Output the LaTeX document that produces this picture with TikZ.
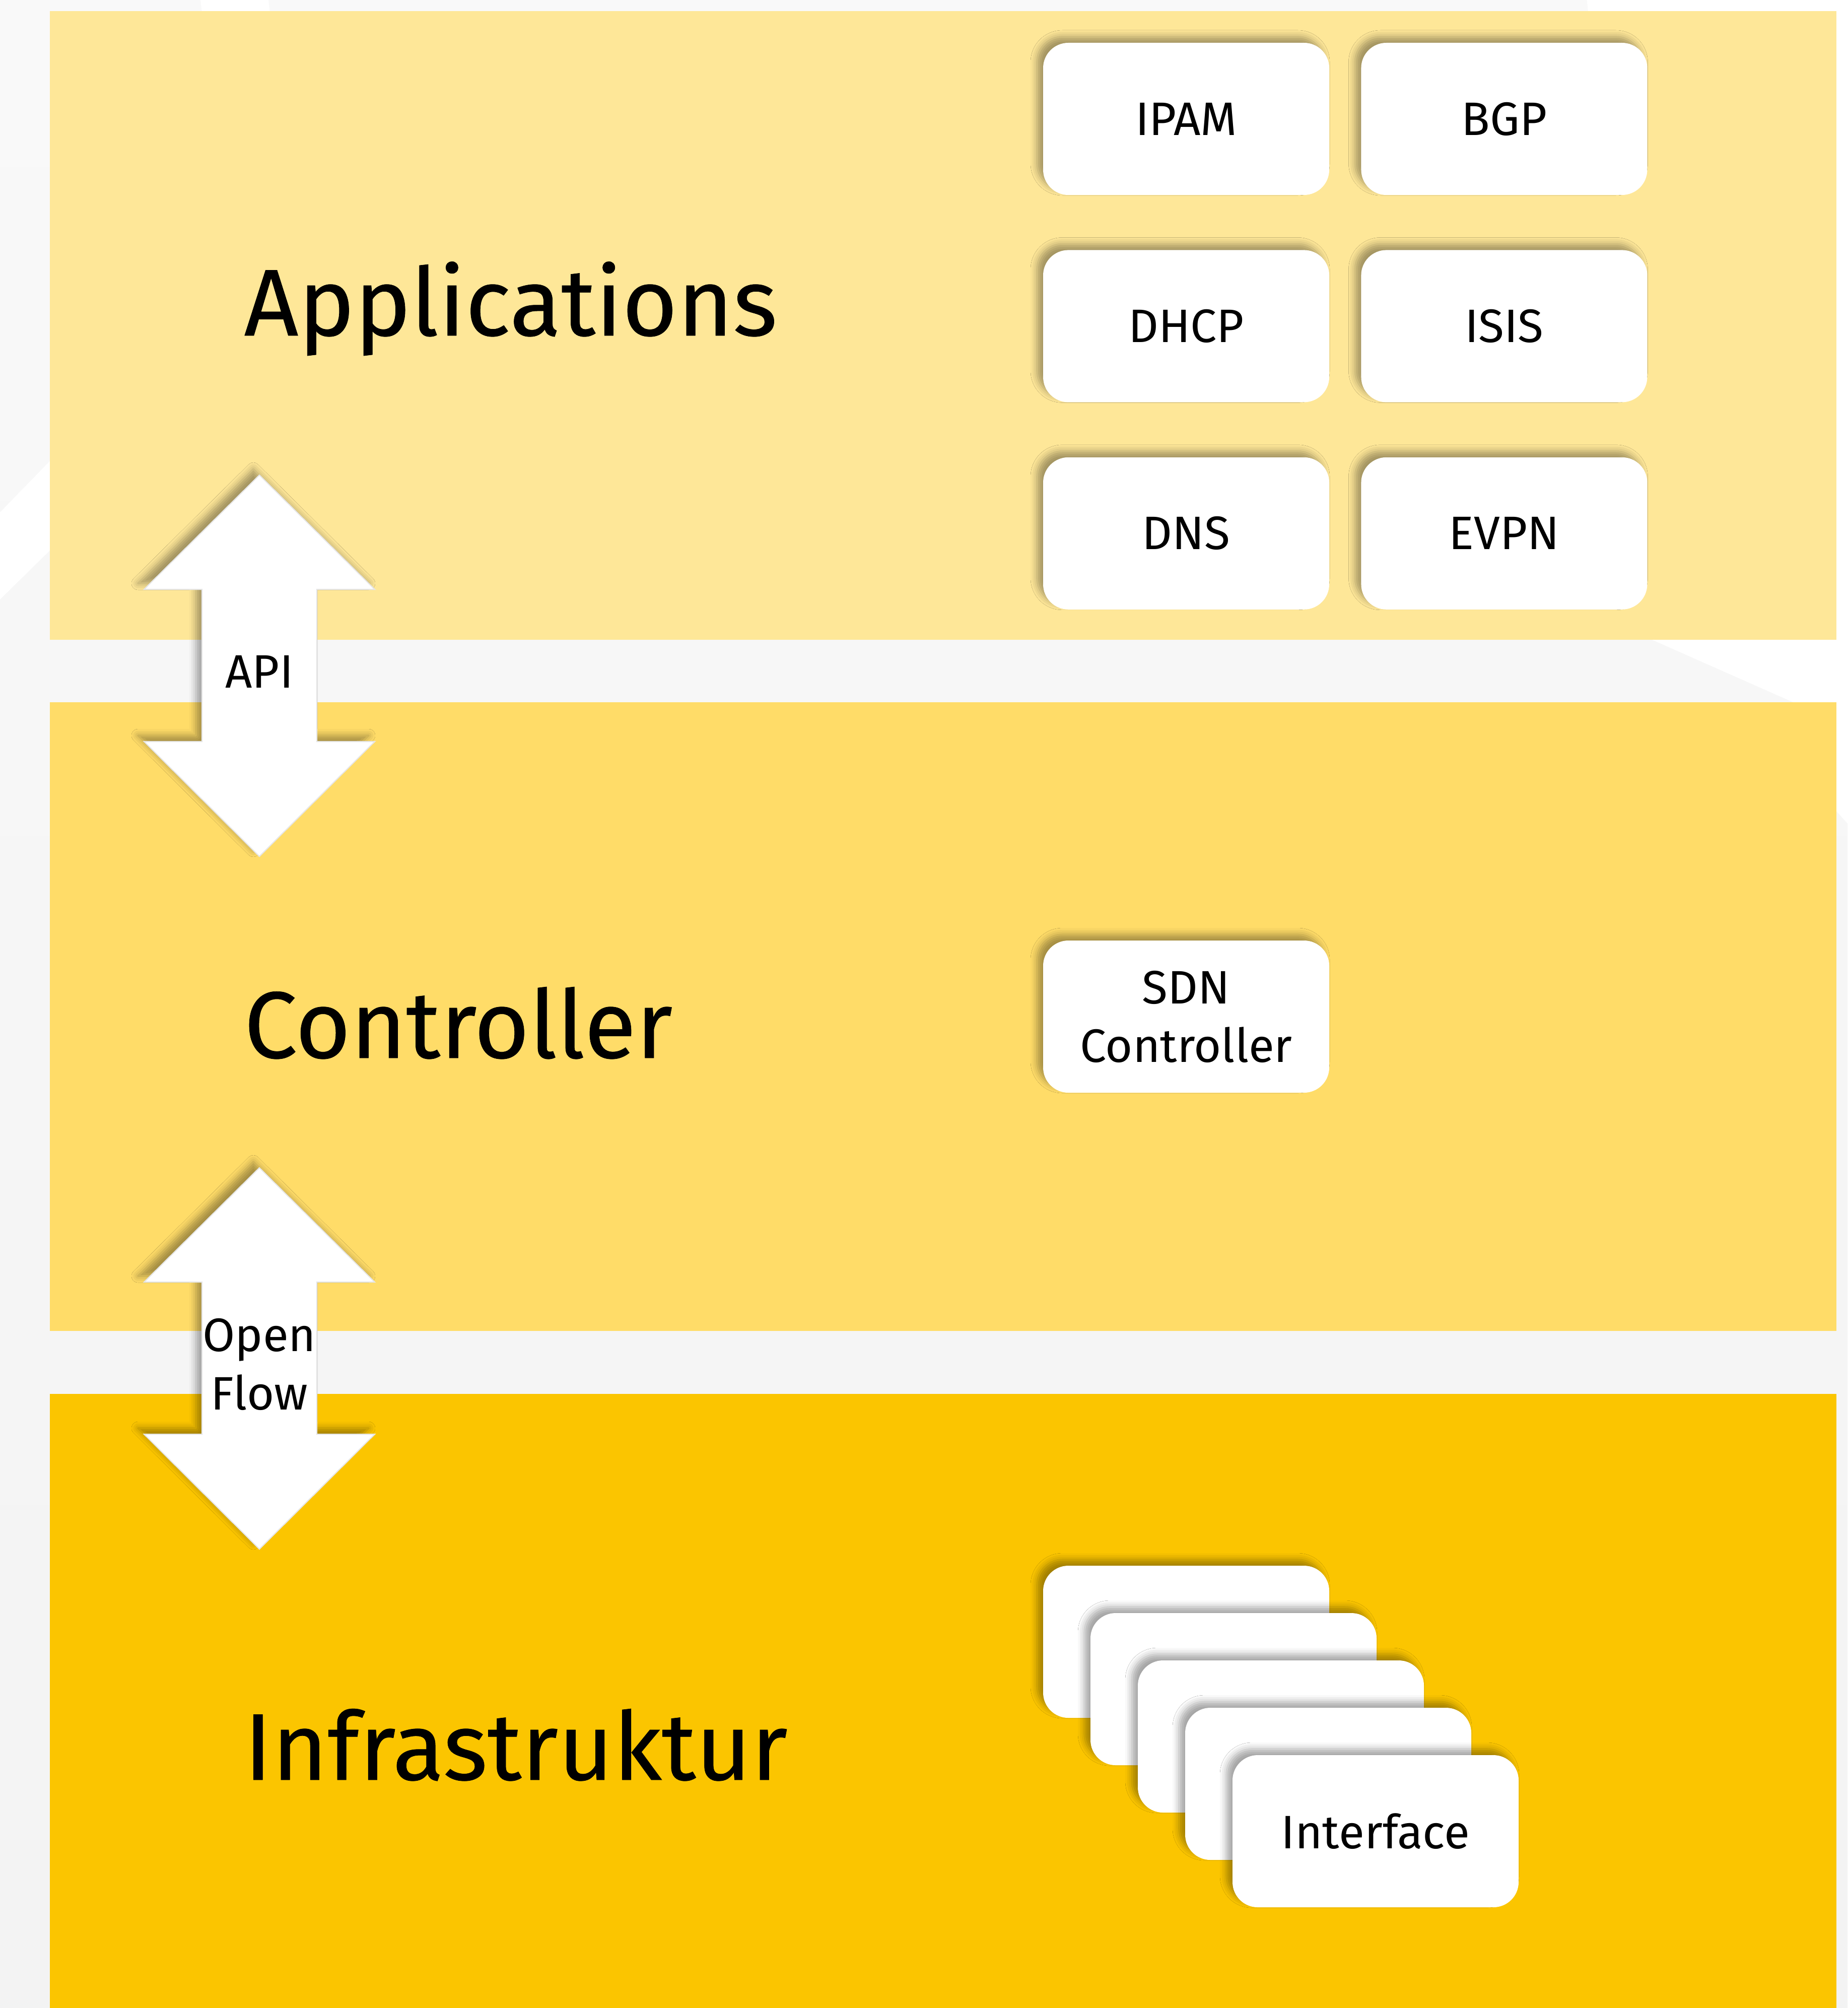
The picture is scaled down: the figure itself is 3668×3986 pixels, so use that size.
\documentclass[tikz,border=0pt]{standalone}
\usepackage{fontspec}
\setmainfont{Fira Sans}
\newfontfamily\headfont{Fira Sans}[FakeBold=0.4]
\usetikzlibrary{positioning,shadows.blur}
\definecolor{bgtop}{RGB}{249,249,249}
\definecolor{bgbottom}{RGB}{243,243,243}
\definecolor{appband}{RGB}{254,231,152}
\definecolor{ctrlband}{RGB}{255,220,104}
\definecolor{infraband}{RGB}{251,197,0}
\definecolor{rimgray}{RGB}{230,230,230}
\tikzset{
  layername/.style={anchor=base west, inner sep=0pt, font=\headfont\fontsize{53.5}{64}\selectfont},
  softshadow/.style={blur shadow={shadow xshift=-1.2mm, shadow yshift=1.2mm,
    shadow blur radius=1.3mm, shadow opacity=35}},
  module/.style={softshadow, fill=white, rounded corners=5mm, align=center,
    minimum width=56.8mm, minimum height=30.2mm, inner sep=0pt,
    font=\fontsize{26.5}{33}\selectfont},
  updown/.style={softshadow, fill=white, draw=rimgray, line width=0.6pt, line join=miter},
  arrowtext/.style={align=center, inner sep=0pt, font=\fontsize{26.5}{33}\selectfont}
}

\begin{document}
\begin{tikzpicture}[x=0.1mm, y=-0.1mm]
  \useasboundingbox (0,0) rectangle (3668,3986);

  % backdrop with a few white facets
  \shade[top color=bgtop, bottom color=bgbottom] (0,0) rectangle (3668,3986);
  \fill[white] (0,1017) -- (600,400) -- (600,600) -- (0,1190) -- cycle;
  \fill[white] (398,0) -- (533,0) -- (540,60) -- (405,60) -- cycle;
  \fill[white] (3150,-5) -- (3673,-5) -- (3673,1640) -- (3600,1560) -- (3560,1394) -- (3280,1270) -- cycle;

  % the three layers
  \fill[appband] (99,22) rectangle (3646,1270);
  \fill[ctrlband] (99,1394) rectangle (3646,2642);
  \fill[infraband] (99,2767) rectangle (3646,3986);

  \node[layername] (apps) at (484,666) {Applications};
  \node[layername] (ctrl) at (484,2100) {Controller};
  \node[layername] (infra) at (484,3533) {Infrastruktur};

  % application modules
  \node[module] (ipam) at (2355,236) {IPAM};
  \node[module, right=6.2mm of ipam] (bgp) {BGP};
  \node[module, below=10.8mm of ipam] (dhcp) {DHCP};
  \node[module, right=6.2mm of dhcp] (isis) {ISIS};
  \node[module, below=10.8mm of dhcp] (dns) {DNS};
  \node[module, right=6.2mm of dns] (evpn) {EVPN};

  % controller
  \node[module] (sdn) at (2355,2018) {SDN\\Controller};

  % stacked interfaces
  \foreach \i in {0,...,3}
    \node[module] (if\i) at (2355+94*\i,3259+94*\i) {};
  \node[module] (iface) at (2731,3635) {Interface};

  % interfaces between the layers
  \foreach \t/\lbl/\nm in {943/API/api, 2318/{Open\\Flow}/openflow}{
    \draw[updown] (515,\t) -- (744,\t+227) -- (629,\t+227) -- (629,\t+529)
      -- (744,\t+529) -- (515,\t+757) -- (286,\t+529) -- (401,\t+529)
      -- (401,\t+227) -- (286,\t+227) -- cycle;
    \node[arrowtext] (\nm) at (515,\t+390) {\lbl};
  }
\end{tikzpicture}
\end{document}
